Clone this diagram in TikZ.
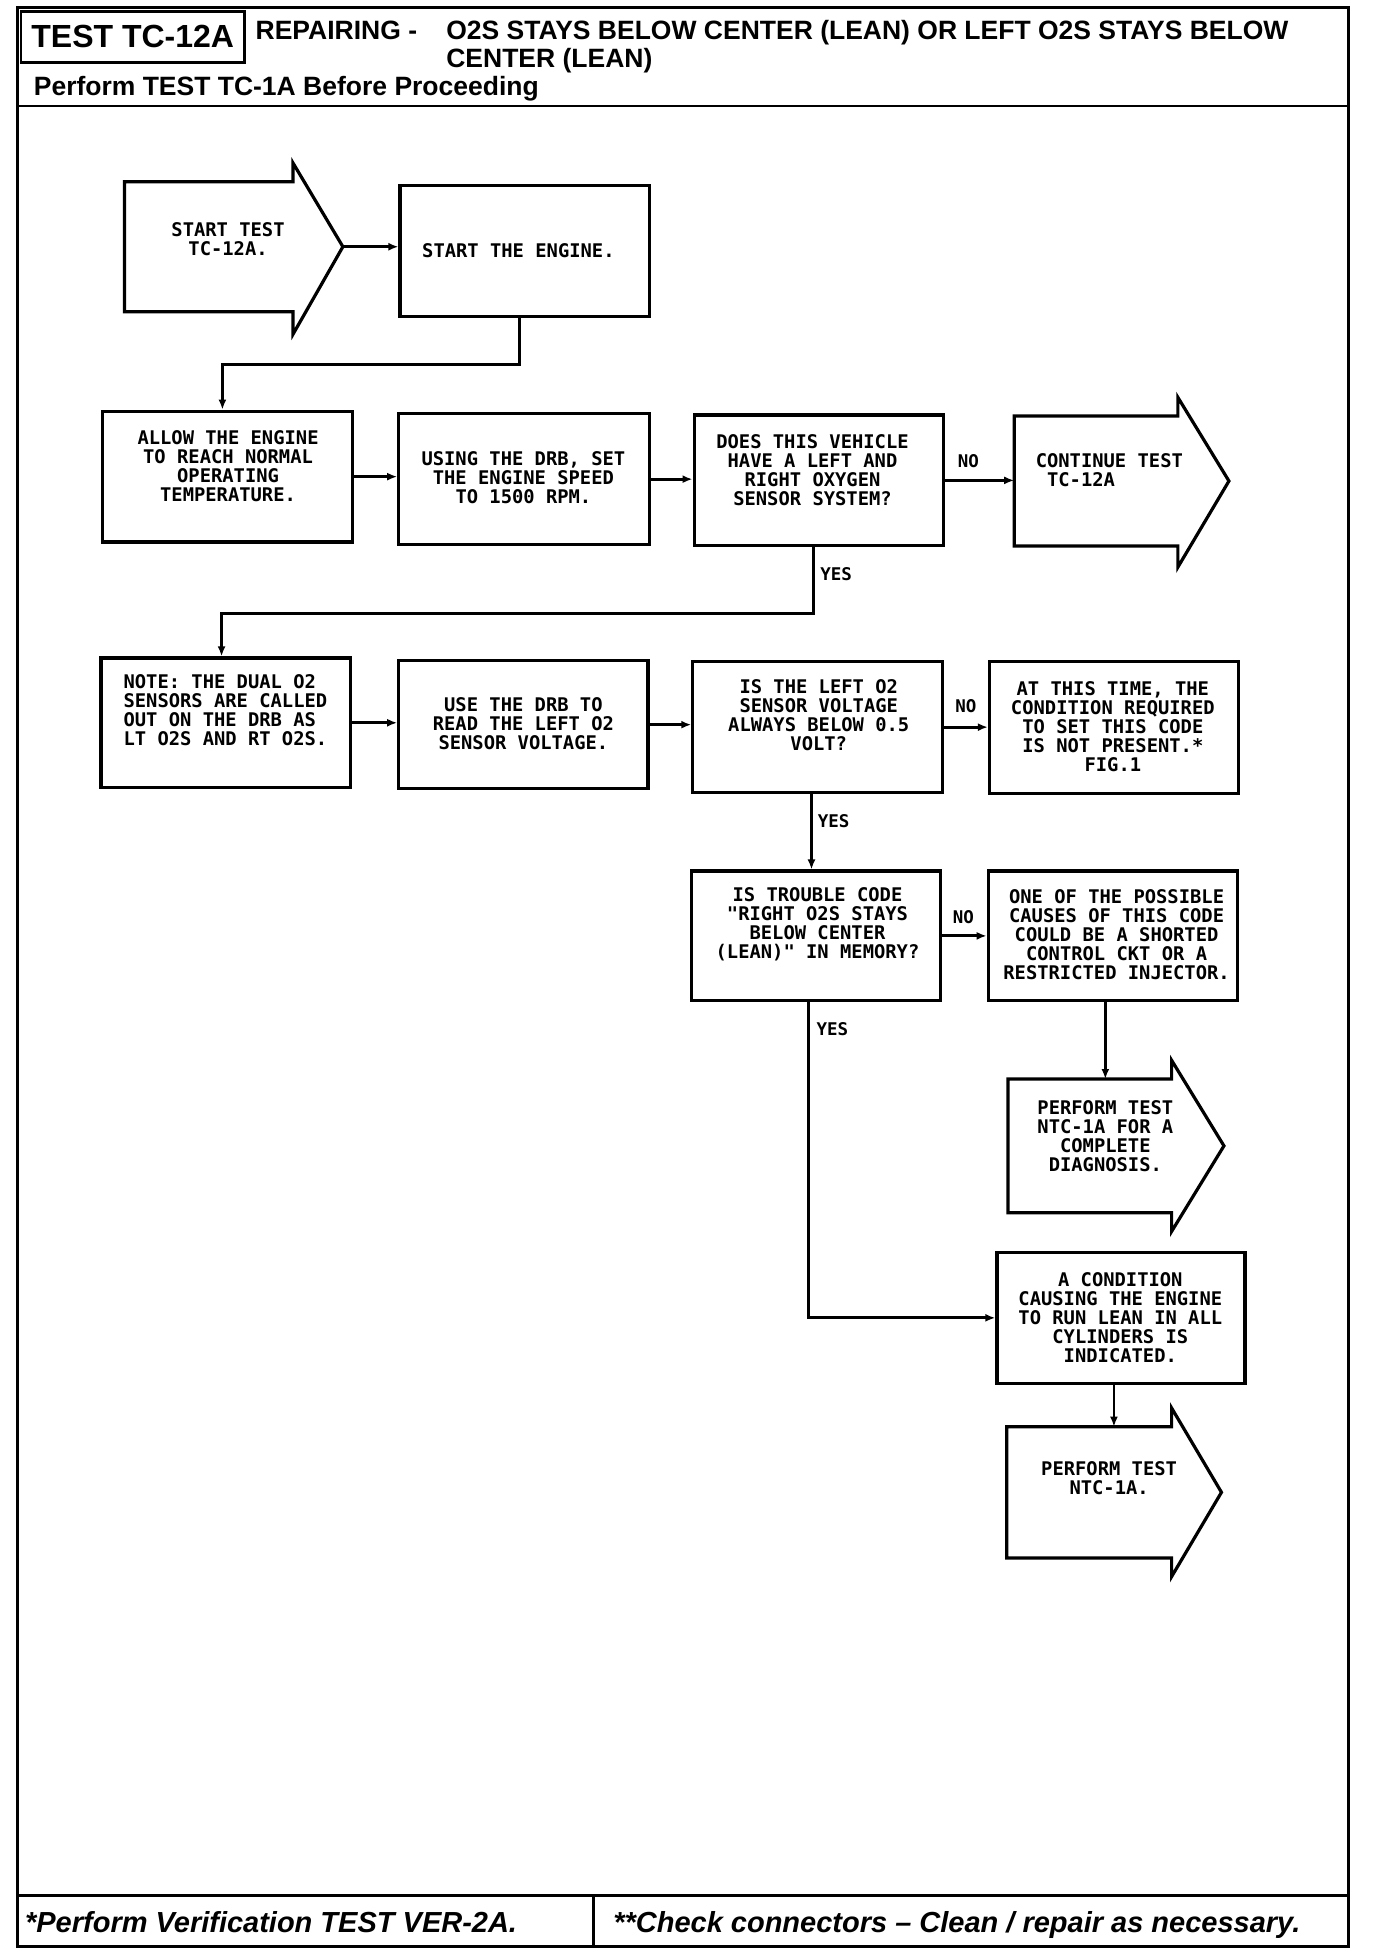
\documentclass[tikz,border=0pt]{standalone}
\usepackage{fontspec}
\setmainfont{Liberation Sans}
\newfontfamily\plotfont{DejaVu Sans Mono Bold}
\usetikzlibrary{arrows.meta,calc}
\begin{document}
\begin{tikzpicture}[x=1.2464pt,y=-1.2464pt,
  sz/.style 2 args={minimum width=#1*1.2464pt,minimum height=#2*1.2464pt},
  frame/.style={line width=2.8pt},
  box/.style={draw,rectangle,line width=3.2pt,inner sep=0pt},
  abody/.style={draw=none,rectangle,inner sep=0pt},
  outline/.style={line width=3.2pt,line join=miter},
  txt/.style={font=\plotfont\fontsize{18.8}{19}\selectfont,align=center,inner sep=0pt},
  txtl/.style={txt,align=left},
  lbl/.style={font=\plotfont\fontsize{17.5}{18}\selectfont,inner sep=0pt},
  conn/.style={line width=2.9pt,-{Latex[length=10pt,width=8pt]}},
  hdr/.style={font=\bfseries\fontsize{26.5}{28}\selectfont,inner sep=0pt,anchor=base west},
  ftr/.style={font=\bfseries\itshape\fontsize{29}{30}\selectfont,inner sep=0pt,anchor=base west}]
\useasboundingbox (0,0) rectangle (1104,1568);
% ---------- frame ----------
\draw[frame] (14,6) rectangle (1082,1562);
\draw[frame] (14,85) -- (1082,85);
\draw[frame] (14,1521) -- (1082,1521);
\draw[frame] (476,1521) -- (476,1562);
\node[box,line width=2.6pt,sz={179}{41},font=\bfseries\fontsize{32}{34}\selectfont] (tc) at (106.5,29.5) {TEST TC-12A};
\node[hdr] (rep) at (205,31.5) {REPAIRING -};
\node[hdr] (tit1) at (358,31.5) {O2S STAYS BELOW CENTER (LEAN) OR LEFT O2S STAYS BELOW};
\node[hdr] (tit2) at (358,54.5) {CENTER (LEAN)};
\node[hdr] (pre) at (27,77) {Perform TEST TC-1A Before Proceeding};
\node[ftr] (f1) at (20,1551) {*Perform Verification TEST VER-2A.};
\node[ftr] (f2) at (492,1551) {**Check connectors -- Clean / repair as necessary.};
% ---------- row 1 ----------
\node[abody,sz={135}{104}] (a1) at (167.5,198) {};
\coordinate (a1tip) at ($(a1.east)+(40,0)$);
\draw[outline] (a1.south west) -- (a1.north west) -- (a1.north east) -- ++(0,-15) -- (a1tip) -- ($(a1.south east)+(0,18)$) -- (a1.south east) -- cycle;
\node[txt] (t1) at (183,192) {START TEST\\TC-12A.};
\node[box,sz={200}{105}] (b2) at (421,201.5) {};
\node[txt] (t2) at (416,201) {START THE ENGINE.};
% ---------- row 2 ----------
\node[box,sz={201}{105}] (b3) at (182.5,382.5) {};
\node[txt] (t3) at (183,374) {ALLOW THE ENGINE\\TO REACH NORMAL\\OPERATING\\TEMPERATURE.};
\node[box,sz={201}{105}] (b4) at (420.5,384.5) {};
\node[txt] (t4) at (420,383) {USING THE DRB, SET\\THE ENGINE SPEED\\TO 1500 RPM.};
\node[box,sz={200}{105}] (b5) at (657,385.5) {};
\node[txt] (t5) at (652,377) {DOES THIS VEHICLE\\HAVE A LEFT AND\\RIGHT OXYGEN\\SENSOR SYSTEM?};
\node[abody,sz={131}{104}] (a6) at (879.5,386) {};
\coordinate (a6tip) at ($(a6.east)+(41,0)$);
\draw[outline] (a6.south west) -- (a6.north west) -- (a6.north east) -- ++(0,-15) -- (a6tip) -- ($(a6.south east)+(0,17)$) -- (a6.south east) -- cycle;
\node[txtl,anchor=west] (t6) at (831,377) {CONTINUE TEST\\\ TC-12A};
% ---------- row 3 ----------
\node[box,sz={200}{104}] (b7) at (181,580) {};
\node[txtl,anchor=west] (t7) at (99,570) {NOTE: THE DUAL O2\\SENSORS ARE CALLED\\OUT ON THE DRB AS\\LT O2S AND RT O2S.};
\node[box,sz={200}{103}] (b8) at (420,581.5) {};
\node[txt] (t8) at (420,581) {USE THE DRB TO\\READ THE LEFT O2\\SENSOR VOLTAGE.};
\node[box,sz={200}{105}] (b9) at (656,583.5) {};
\node[txt] (t9) at (657,574) {IS THE LEFT O2\\SENSOR VOLTAGE\\ALWAYS BELOW 0.5\\VOLT?};
\node[box,sz={200}{106}] (b10) at (894,584) {};
\node[txt] (t10) at (893,583) {AT THIS TIME, THE\\CONDITION REQUIRED\\TO SET THIS CODE\\IS NOT PRESENT.*\\FIG.1};
% ---------- row 4 ----------
\node[box,sz={200}{104}] (b11) at (655,751) {};
\node[txt] (t11) at (656,742) {IS TROUBLE CODE\\"RIGHT O2S STAYS\\BELOW CENTER\\(LEAN)" IN MEMORY?};
\node[box,sz={200}{104}] (b12) at (893,751) {};
\node[txt] (t12) at (896,750) {ONE OF THE POSSIBLE\\CAUSES OF THIS CODE\\COULD BE A SHORTED\\CONTROL CKT OR A\\RESTRICTED INJECTOR.};
% ---------- right column ----------
\node[abody,sz={131}{107}] (a13) at (874.5,919.5) {};
\coordinate (a13tip) at ($(a13.east)+(42,0)$);
\draw[outline] (a13.south west) -- (a13.north west) -- (a13.north east) -- ++(0,-15) -- (a13tip) -- ($(a13.south east)+(0,15)$) -- (a13.south east) -- cycle;
\node[txt] (t13) at (887,912) {PERFORM TEST\\NTC-1A FOR A\\COMPLETE\\DIAGNOSIS.};
\node[box,sz={199}{105}] (b14) at (899.5,1057.5) {};
\node[txt] (t14) at (899,1057) {A CONDITION\\CAUSING THE ENGINE\\TO RUN LEAN IN ALL\\CYLINDERS IS\\INDICATED.};
\node[abody,sz={132}{105}] (a15) at (874,1197.5) {};
\coordinate (a15tip) at ($(a15.east)+(40,0)$);
\draw[outline] (a15.south west) -- (a15.north west) -- (a15.north east) -- ++(0,-15) -- (a15tip) -- ($(a15.south east)+(0,15)$) -- (a15.south east) -- cycle;
\node[txt] (t15) at (890,1186) {PERFORM TEST\\NTC-1A.};
% ---------- connectors ----------
\draw[conn] (a1tip) -- (a1tip -| b2.west);
\draw[conn] ([xshift=-5pt]b2.south) -- ++(0,37) -| ([xshift=-5pt]b3.north);
\draw[conn] (b3.east) -- (b3.east -| b4.west);
\draw[conn] (b4.east) -- (b4.east -| b5.west);
\draw[conn] (b5.east) -- (b5.east -| a6.west);
\draw[conn] ([xshift=-5pt]b5.south) -- ++(0,53) -| ([xshift=-4pt]b7.north);
\draw[conn] (b7.east) -- (b7.east -| b8.west);
\draw[conn] (b8.east) -- (b8.east -| b9.west);
\draw[conn] (b9.east) -- (b9.east -| b10.west);
\draw[conn] ([xshift=-6pt]b9.south) -- ([xshift=-6pt]b9.south |- b11.north);
\draw[conn] (b11.east) -- (b11.east -| b12.west);
\draw[conn] ([xshift=-7.5pt]b12.south) -- ([xshift=-7.5pt]b12.south |- a13.north);
\draw[conn] ([xshift=-7.5pt]b11.south) |- (b14.west);
\draw[conn] ([xshift=-7pt]b14.south) -- ([xshift=-7pt]b14.south |- a15.north);
% ---------- labels ----------
\node[lbl] (n1) at (777,370) {NO};
\node[lbl] (y1) at (671,461) {YES};
\node[lbl] (n2) at (775,567) {NO};
\node[lbl] (y2) at (669,659) {YES};
\node[lbl] (n3) at (773,736) {NO};
\node[lbl] (y3) at (668,826) {YES};
\end{tikzpicture}
\end{document}
